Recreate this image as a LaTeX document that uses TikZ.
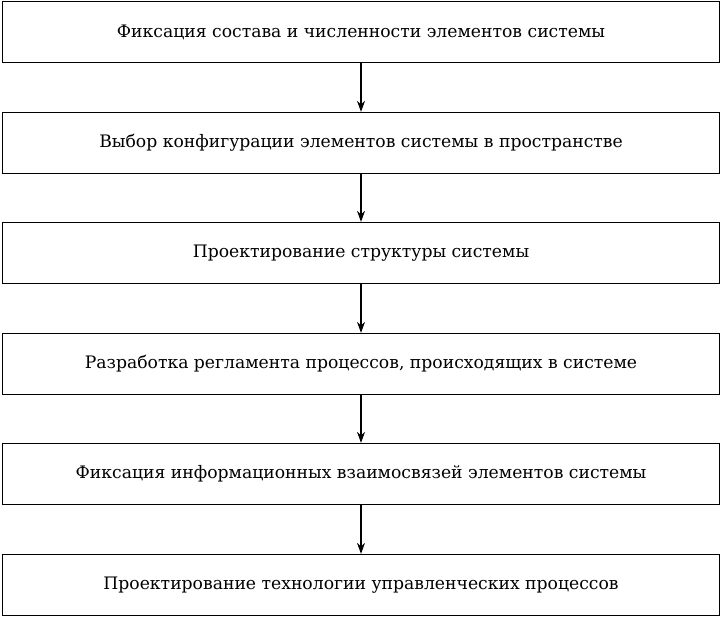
\documentclass[tikz,border=0pt]{standalone}
\usepackage{fontspec}
\setmainfont{DejaVu Serif}
\usetikzlibrary{arrows.meta}
\begin{document}
\begin{tikzpicture}[x=1pt,y=-1pt,
  box/.style={draw,line width=1.3pt,minimum width=717pt,minimum height=61pt,inner sep=0pt,font=\fontsize{17.2}{20}\selectfont},
  arr/.style={-{Stealth[length=11pt,width=8pt]},line width=1.1pt}]
\useasboundingbox (0,0) rectangle (722,618);
\node[box] (b1) at (361,32) {Фиксация состава и численности элементов системы};
\node[box] (b2) at (361,143) {Выбор конфигурации элементов системы в пространстве};
\node[box] (b3) at (361,253) {Проектирование структуры системы};
\node[box] (b4) at (361,364) {Разработка регламента процессов, происходящих в системе};
\node[box] (b5) at (361,474) {Фиксация информационных взаимосвязей элементов системы};
\node[box] (b6) at (361,585) {Проектирование технологии управленческих процессов};
\foreach \a/\b in {b1/b2,b2/b3,b3/b4,b4/b5,b5/b6} \draw[arr] (\a) -- (\b);
\end{tikzpicture}
\end{document}
